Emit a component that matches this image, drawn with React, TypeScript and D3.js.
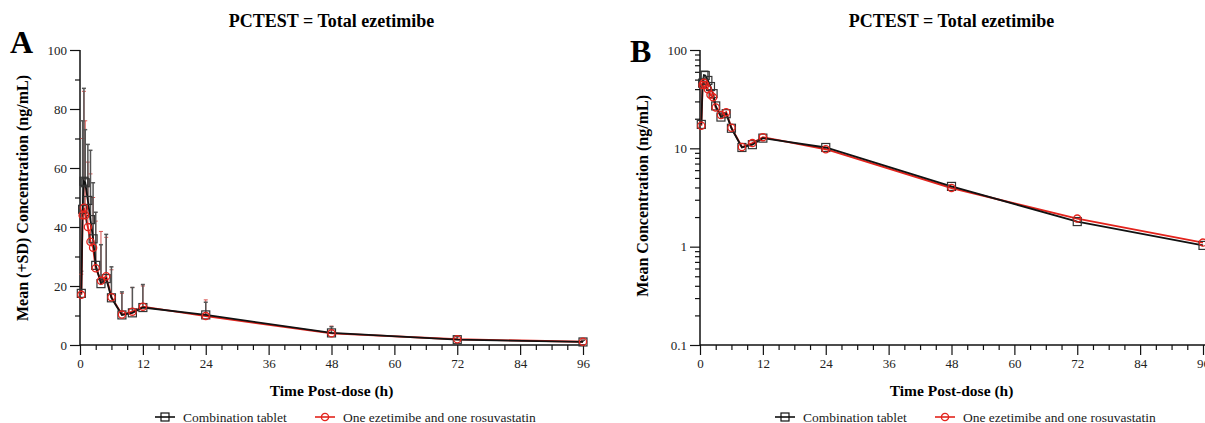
import React, { useEffect, useRef } from "react";
import * as d3 from "d3";

// sampling times (h)
const times = [0.25, 0.5, 0.75, 1, 1.5, 2, 2.5, 3, 4, 5, 6, 8, 10, 12, 24, 48, 72, 96];
// Combination tablet
const comboMean = [17.5, 46, 55.5, 55, 49, 42.5, 36, 27, 20.8, 22.5, 16, 10.2, 10.9, 12.7, 10.2, 4.1, 1.8, 1.03];
const comboSD = [7.5, 30, 31.5, 18, 19, 23.5, 19, 18, 13.2, 15, 10.5, 7.8, 8.6, 7.8, 4.3, 2.1, 1.0, 0.57];
// One ezetimibe and one rosuvastatin
const separateMean = [17, 44, 46.5, 44, 40, 35, 33, 26, 21.8, 23.3, 16.2, 10.3, 11.3, 13, 9.8, 3.95, 1.93, 1.1];
const separateSD = [7, 26, 39.5, 32, 22, 23, 17, 16, 16.7, 13.2, 9.3, 7.2, 8.2, 7, 5.5, 2.45, 0.97, 0.6];

const seriesNames = ["Combination tablet", "One ezetimibe and one rosuvastatin"];
const timeTicks = [0, 12, 24, 36, 48, 60, 72, 84, 96];
const linearTicks = [0, 20, 40, 60, 80, 100];
const logTicks = [0.1, 1, 10, 100];
const titleText = "PCTEST = Total ezetimibe";
const xTitle = "Time Post-dose (h)";

const FONT = "'Liberation Serif', 'Times New Roman', serif";
const BLACK = "#111";
const RED = "#e3231c";

const App = () => {
  const ref = useRef(null);

  const drawPanel = (svg, opts) => {
    const { x0, log, letter, letterY, yLabel, yLabelTop, showSD } = opts;
    const top = 50;
    const bottom = 345;
    const plotW = 503;

    const x = d3.scaleLinear().domain([0, 96]).range([x0, x0 + plotW]);
    const y = log
      ? d3.scaleLog().domain([0.1, 100]).range([bottom, top])
      : d3.scaleLinear().domain([0, 100]).range([bottom, top]);

    const g = svg.append("g");

    // title and panel letter
    g.append("text")
      .attr("x", x0 + plotW / 2)
      .attr("y", 27)
      .attr("text-anchor", "middle")
      .attr("font-family", FONT)
      .attr("font-weight", "bold")
      .attr("font-size", 18)
      .text(titleText);

    g.append("text")
      .attr("x", x0 - 70)
      .attr("y", letterY)
      .attr("font-family", FONT)
      .attr("font-weight", "bold")
      .attr("font-size", 32)
      .text(letter);

    // y axis major + minor
    const yMajor = log
      ? d3.axisLeft(y).tickValues(logTicks).tickFormat((d) => String(d))
      : d3.axisLeft(y).tickValues(linearTicks).tickFormat(d3.format("d"));
    g.append("g")
      .attr("transform", `translate(${x0},0)`)
      .call(yMajor.tickSize(10).tickPadding(3))
      .call((a) => a.select(".domain").remove());

    const yMinorVals = log
      ? [0.1, 1, 10].flatMap((d) => d3.range(2, 10).map((k) => d * k))
      : [10, 30, 50, 70, 90];
    g.append("g")
      .attr("transform", `translate(${x0},0)`)
      .call(d3.axisLeft(y).tickValues(yMinorVals).tickSize(5).tickFormat(() => ""))
      .call((a) => a.select(".domain").remove());

    // x axis major + minor
    g.append("g")
      .attr("transform", `translate(0,${bottom})`)
      .call(d3.axisBottom(x).tickValues(timeTicks).tickSize(10).tickPadding(4).tickFormat(d3.format("d")))
      .call((a) => a.select(".domain").remove());

    g.append("g")
      .attr("transform", `translate(0,${bottom})`)
      .call(
        d3.axisBottom(x)
          .tickValues(d3.range(0, 97, 3).filter((d) => d % 12 !== 0))
          .tickSize(5)
          .tickFormat(() => "")
      )
      .call((a) => a.select(".domain").remove());

    g.selectAll(".tick line").attr("stroke", BLACK).attr("stroke-width", 1.2);
    g.selectAll(".tick text")
      .attr("font-family", FONT)
      .attr("font-size", 13)
      .attr("fill", "#222");

    // axis lines
    g.append("line")
      .attr("x1", x0).attr("x2", x0)
      .attr("y1", bottom).attr("y2", top)
      .attr("stroke", BLACK).attr("stroke-width", 1.5);
    g.append("line")
      .attr("x1", x0).attr("x2", x0 + plotW + 2)
      .attr("y1", bottom).attr("y2", bottom)
      .attr("stroke", BLACK).attr("stroke-width", 1.5);

    // axis titles
    g.append("text")
      .attr("x", x0 + plotW / 2)
      .attr("y", 396)
      .attr("text-anchor", "middle")
      .attr("font-family", FONT)
      .attr("font-weight", "bold")
      .attr("font-size", 15.5)
      .text(xTitle);

    g.append("text")
      .attr("transform", `translate(${x0 - 52},${yLabelTop}) rotate(-90)`)
      .attr("text-anchor", "end")
      .attr("font-family", FONT)
      .attr("font-weight", "bold")
      .attr("font-size", 16)
      .text(yLabel);

    const comboPts = times.map((t, i) => ({ t, v: comboMean[i], sd: comboSD[i] }));
    const sepPts = times.map((t, i) => ({ t, v: separateMean[i], sd: separateSD[i] }));

    // +SD bars
    if (showSD) {
      const drawSD = (pts, color, w) => {
        const eg = g.append("g").attr("stroke", color).attr("stroke-width", w);
        eg.selectAll("line.bar")
          .data(pts)
          .enter()
          .append("line")
          .attr("x1", (d) => x(d.t)).attr("x2", (d) => x(d.t))
          .attr("y1", (d) => y(d.v)).attr("y2", (d) => y(d.v + d.sd));
        eg.selectAll("line.cap")
          .data(pts)
          .enter()
          .append("line")
          .attr("x1", (d) => x(d.t) - 2).attr("x2", (d) => x(d.t) + 2)
          .attr("y1", (d) => y(d.v + d.sd)).attr("y2", (d) => y(d.v + d.sd));
      };
      drawSD(sepPts, "#d9534f", 1);
      drawSD(comboPts, "#555", 1.5);
    }

    const line = d3.line().x((d) => x(d.t)).y((d) => y(d.v));

    g.append("path").datum(sepPts)
      .attr("fill", "none").attr("stroke", RED).attr("stroke-width", 1.9).attr("d", line);
    g.append("path").datum(comboPts)
      .attr("fill", "none").attr("stroke", BLACK).attr("stroke-width", 1.8).attr("d", line);

    g.selectAll("rect.combo")
      .data(comboPts)
      .enter()
      .append("rect")
      .attr("x", (d) => x(d.t) - 4)
      .attr("y", (d) => y(d.v) - 4)
      .attr("width", 8).attr("height", 8)
      .attr("fill", "none").attr("stroke", "#333").attr("stroke-width", 1.2);

    g.selectAll("circle.sep")
      .data(sepPts)
      .enter()
      .append("circle")
      .attr("cx", (d) => x(d.t))
      .attr("cy", (d) => y(d.v))
      .attr("r", 3.6)
      .attr("fill", "none").attr("stroke", RED).attr("stroke-width", 1.3);

    // legend
    const lg = g.append("g").attr("transform", `translate(${x0 + 75},417)`);
    const items = [
      { name: seriesNames[0], color: BLACK, marker: "square", dx: 0 },
      { name: seriesNames[1], color: RED, marker: "circle", dx: 160 },
    ];
    items.forEach((it) => {
      const ig = lg.append("g").attr("transform", `translate(${it.dx},0)`);
      ig.append("line").attr("x1", 0).attr("x2", 20).attr("y1", 0).attr("y2", 0)
        .attr("stroke", it.color).attr("stroke-width", 1.6);
      if (it.marker === "square") {
        ig.append("rect").attr("x", 6).attr("y", -4).attr("width", 8).attr("height", 8)
          .attr("fill", "none").attr("stroke", it.color).attr("stroke-width", 1.2);
      } else {
        ig.append("circle").attr("cx", 10).attr("cy", 0).attr("r", 3.6)
          .attr("fill", "none").attr("stroke", it.color).attr("stroke-width", 1.3);
      }
      ig.append("text")
        .attr("x", 28).attr("y", 4.5)
        .attr("font-family", FONT)
        .attr("font-size", 13.5)
        .attr("fill", "#222")
        .text(it.name);
    });
  };

  useEffect(() => {
    const svg = d3.select(ref.current);
    svg.selectAll("*").remove();
    drawPanel(svg, {
      x0: 80, log: false, letter: "A", letterY: 53,
      yLabel: "Mean (+SD) Concentration (ng/mL)", yLabelTop: 75, showSD: true,
    });
    drawPanel(svg, {
      x0: 700, log: true, letter: "B", letterY: 62,
      yLabel: "Mean Concentration (ng/mL)", yLabelTop: 95, showSD: false,
    });
  }, []);

  return (
    <svg
      ref={ref}
      width={1205}
      height={423}
      style={{ position: "absolute", left: 0, top: 0, background: "#fff" }}
    />
  );
};

export default App;
